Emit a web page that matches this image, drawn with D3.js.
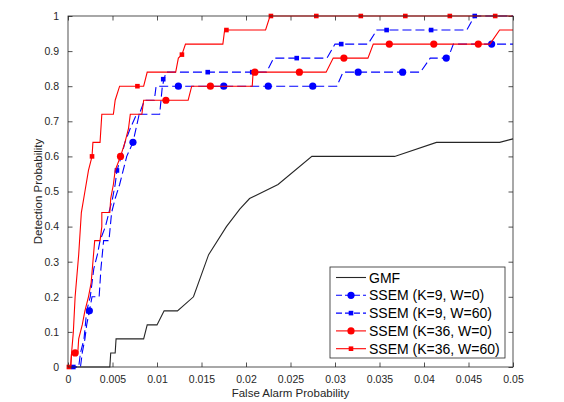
<!DOCTYPE html>
<html lang="en">
  <head>
    <meta charset="UTF-8" />
    <title>ROC</title>
    <script src="https://d3js.org/d3.v7.min.js"></script>
    <style>
      body { margin: 0; background: #fff; }
      text { font-family: "Liberation Sans", Arial, sans-serif; }
    </style>
  </head>

  <body>
    <svg width="564" height="402"></svg>
    <script>
      // tick values
      const xTicks = [0, 0.005, 0.01, 0.015, 0.02, 0.025, 0.03, 0.035, 0.04, 0.045, 0.05];
      const yTicks = [0, 0.1, 0.2, 0.3, 0.4, 0.5, 0.6, 0.7, 0.8, 0.9, 1];

      // series names
      const names = ["GMF", "SSEM (K=9, W=0)", "SSEM (K=9, W=60)", "SSEM (K=36, W=0)", "SSEM (K=36, W=60)"];

      // curves: [false alarm, detection]
      const gmf = [[0,0],[0.0047,0],[0.0048,0.04],[0.0053,0.04],[0.0054,0.08],[0.0085,0.08],[0.0089,0.12],
        [0.0100,0.12],[0.0108,0.16],[0.0123,0.16],[0.0141,0.2],[0.0158,0.32],[0.0178,0.4],[0.0193,0.45],
        [0.0204,0.48],[0.0236,0.52],[0.0274,0.6],[0.0367,0.6],[0.0414,0.64],[0.0485,0.64],[0.05,0.65]];

      const k9w0 = [[0,0],[0.0014,0],[0.0016,0.04],[0.0019,0.08],[0.0021,0.12],[0.0024,0.16],[0.0027,0.2],
        [0.0035,0.2],[0.0037,0.28],[0.0040,0.36],[0.0046,0.36],[0.0049,0.44],[0.0053,0.48],[0.0058,0.52],
        [0.0062,0.56],[0.0066,0.6],[0.0073,0.64],[0.0080,0.72],[0.0086,0.76],[0.0097,0.76],[0.0099,0.8],
        [0.0302,0.8],[0.0309,0.84],[0.0396,0.84],[0.0407,0.88],[0.0427,0.88],[0.0433,0.92],[0.05,0.92]];
      const k9w0Marks = [[0.0024,0.16],[0.0073,0.64],[0.0124,0.8],[0.0175,0.8],[0.0225,0.8],[0.0275,0.8],
        [0.0326,0.84],[0.0376,0.84],[0.0425,0.88],[0.0476,0.92]];

      const k9w60 = [[0,0],[0.0012,0],[0.0014,0.04],[0.0018,0.08],[0.0021,0.16],[0.0025,0.2],[0.0029,0.28],
        [0.0033,0.32],[0.0036,0.36],[0.0042,0.4],[0.0046,0.44],[0.0050,0.48],[0.0053,0.52],[0.0055,0.56],
        [0.0060,0.6],[0.0064,0.64],[0.0070,0.68],[0.0077,0.72],[0.0103,0.72],[0.0106,0.8],[0.0110,0.84],
        [0.0223,0.84],[0.0231,0.88],[0.0291,0.88],[0.0300,0.92],[0.0337,0.92],[0.0347,0.96],[0.0448,0.96],
        [0.0457,1],[0.05,1]];
      const k9w60Marks = [[0.0006,0],[0.0055,0.56],[0.0107,0.82],[0.0157,0.84],[0.0207,0.84],[0.0257,0.88],
        [0.0307,0.92],[0.0358,0.96],[0.0408,0.96],[0.0457,1]];

      const k36w0 = [[0,0],[0.0003,0],[0.0004,0.04],[0.0011,0.04],[0.0012,0.08],[0.0016,0.12],[0.0019,0.16],
        [0.0023,0.2],[0.0026,0.24],[0.0028,0.3],[0.0030,0.36],[0.0036,0.36],[0.0038,0.4],[0.0038,0.44],
        [0.0047,0.44],[0.0048,0.48],[0.0051,0.52],[0.0053,0.56],[0.0059,0.6],[0.0064,0.64],[0.0068,0.68],
        [0.0070,0.72],[0.0083,0.72],[0.0085,0.76],[0.0135,0.76],[0.0139,0.8],[0.0207,0.8],[0.0208,0.84],
        [0.0290,0.84],[0.0298,0.88],[0.0337,0.88],[0.0343,0.92],[0.0474,0.92],[0.0485,0.96],[0.05,0.96]];
      const k36w0Marks = [[0.0008,0.04],[0.0059,0.6],[0.0110,0.76],[0.0160,0.8],[0.0210,0.84],[0.0260,0.84],
        [0.0310,0.88],[0.0361,0.92],[0.0411,0.92],[0.0461,0.92]];

      const k36w60 = [[0,0],[0.0003,0],[0.0004,0.04],[0.0006,0.1],[0.0008,0.2],[0.0012,0.32],[0.0015,0.44],
        [0.0019,0.5],[0.0023,0.56],[0.0027,0.6],[0.0028,0.64],[0.0036,0.64],[0.0038,0.72],[0.0051,0.72],
        [0.0053,0.76],[0.0058,0.8],[0.0085,0.8],[0.0089,0.84],[0.0121,0.84],[0.0124,0.88],[0.0128,0.89],
        [0.0132,0.92],[0.0174,0.92],[0.0176,0.96],[0.0222,0.96],[0.0227,1],[0.05,1]];
      const k36w60Marks = [[0.0001,0],[0.0027,0.6],[0.0078,0.8],[0.0128,0.89],[0.0178,0.96],[0.0228,1],
        [0.0279,1],[0.0329,1],[0.0379,1],[0.0429,1],[0.0480,1]];

      const series = [
        { name: names[0], data: gmf, marks: [], color: "#262626", dash: null, marker: null },
        { name: names[1], data: k9w0, marks: k9w0Marks, color: "#0000ff", dash: "9,4", marker: "circle" },
        { name: names[2], data: k9w60, marks: k9w60Marks, color: "#0000ff", dash: "9,4", marker: "square" },
        { name: names[3], data: k36w0, marks: k36w0Marks, color: "#ff0000", dash: null, marker: "circle" },
        { name: names[4], data: k36w60, marks: k36w60Marks, color: "#ff0000", dash: null, marker: "square" },
      ];

      const svg = d3.select("svg");
      const margin = { top: 16, right: 51, bottom: 35, left: 68 };
      const width = +svg.attr("width") - margin.left - margin.right;
      const height = +svg.attr("height") - margin.top - margin.bottom;
      const g = svg.append("g").attr("transform", "translate(" + margin.left + "," + margin.top + ")");

      const x = d3.scaleLinear().domain([0, 0.05]).range([0, width]);
      const y = d3.scaleLinear().domain([0, 1]).range([height, 0]);
      const axisColor = "#262626";
      const tl = 4.5;

      const fmt = (d) => (d === 0 ? "0" : String(+d.toFixed(3)));

      function styleAxis(sel, labels) {
        sel.select(".domain").remove();
        sel.selectAll(".tick line").attr("stroke", axisColor).attr("stroke-width", 0.8);
        sel.selectAll(".tick text").attr("fill", axisColor).style("font-size", "10.5px");
        if (!labels) sel.selectAll(".tick text").remove();
      }

      g.append("g").attr("transform", "translate(0," + height + ")")
        .call(d3.axisBottom(x).tickValues(xTicks).tickSizeInner(-tl).tickSizeOuter(0).tickPadding(9).tickFormat(fmt))
        .call(styleAxis, true);
      g.append("g")
        .call(d3.axisTop(x).tickValues(xTicks).tickSizeInner(-tl).tickSizeOuter(0))
        .call(styleAxis, false);
      g.append("g")
        .call(d3.axisLeft(y).tickValues(yTicks).tickSizeInner(-tl).tickSizeOuter(0).tickPadding(9).tickFormat(fmt))
        .call(styleAxis, true);
      g.append("g").attr("transform", "translate(" + width + ",0)")
        .call(d3.axisRight(y).tickValues(yTicks).tickSizeInner(-tl).tickSizeOuter(0))
        .call(styleAxis, false);

      g.append("defs").append("clipPath").attr("id", "clip")
        .append("rect").attr("x", -4).attr("y", -4).attr("width", width + 8).attr("height", height + 8);

      const line = d3.line().x((d) => x(d[0])).y((d) => y(d[1]));
      const plot = g.append("g").attr("clip-path", "url(#clip)");

      function drawMarker(sel, type, color) {
        if (type === "circle") {
          sel.append("circle").attr("r", 3.6).attr("fill", color);
        } else if (type === "square") {
          sel.append("rect").attr("x", -2.3).attr("y", -2.3).attr("width", 4.6).attr("height", 4.6).attr("fill", color);
        }
      }

      series.forEach((s) => {
        plot.append("path")
          .datum(s.data)
          .attr("fill", "none")
          .attr("stroke", s.color)
          .attr("stroke-width", 1.1)
          .attr("stroke-dasharray", s.dash)
          .attr("d", line);
        s.marks.forEach((m) => {
          const mk = plot.append("g").attr("transform", "translate(" + x(m[0]) + "," + y(m[1]) + ")");
          drawMarker(mk, s.marker, s.color);
        });
      });

      // box
      g.append("rect").attr("width", width).attr("height", height)
        .attr("fill", "none").attr("stroke", axisColor).attr("stroke-width", 0.8);

      // axis titles
      svg.append("text")
        .attr("x", margin.left + width / 2).attr("y", 397)
        .attr("text-anchor", "middle").attr("fill", axisColor).style("font-size", "11.5px")
        .text("False Alarm Probability");
      svg.append("text")
        .attr("transform", "translate(42," + (margin.top + height / 2) + ") rotate(-90)")
        .attr("text-anchor", "middle").attr("fill", axisColor).style("font-size", "11.5px")
        .text("Detection Probability");

      // legend
      const lg = svg.append("g").attr("transform", "translate(330,267)");
      lg.append("rect").attr("width", 175).attr("height", 91)
        .attr("fill", "#fff").attr("stroke", axisColor).attr("stroke-width", 0.8);
      series.forEach((s, i) => {
        const row = lg.append("g").attr("transform", "translate(0," + (10.5 + i * 17.8) + ")");
        row.append("line").attr("x1", 6).attr("x2", 36)
          .attr("stroke", s.color).attr("stroke-width", 1.1)
          .attr("stroke-dasharray", s.dash ? "6,3" : null);
        const mk = row.append("g").attr("transform", "translate(21,0)");
        drawMarker(mk, s.marker, s.color);
        row.append("text").attr("x", 39).attr("y", 5).attr("fill", "#000")
          .style("font-size", "14px").text(s.name);
      });
    </script>
  </body>
</html>
